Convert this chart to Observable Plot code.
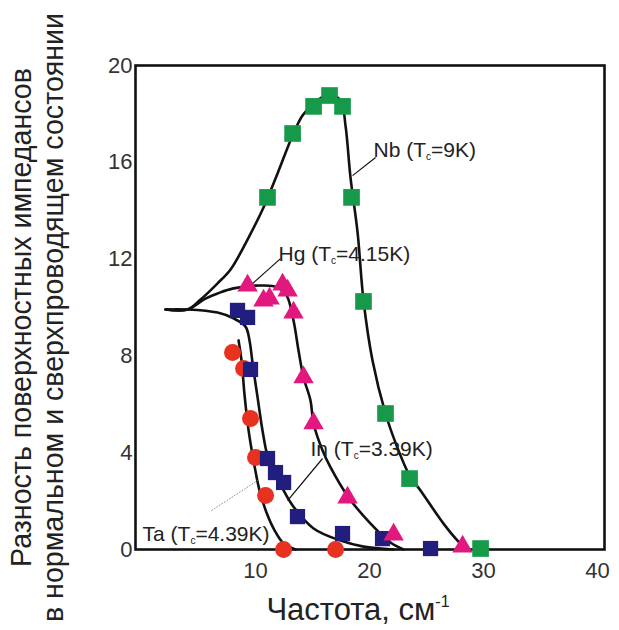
<!DOCTYPE html>
<html>
<head>
<meta charset="utf-8">
<script src="https://cdn.jsdelivr.net/npm/d3@7"></script>
<script src="https://cdn.jsdelivr.net/npm/@observablehq/plot@0.6"></script>
<style>
  html, body { margin: 0; padding: 0; background: #fff; }
  #chart { width: 619px; height: 630px; }
</style>
</head>
<body>
<div id="chart"></div>
<script>
// ---- Data (x: частота, см^-1; y: разность импедансов) ----
const nbPoints = [
  {x: 11.05, y: 14.55}, {x: 13.25, y: 17.19}, {x: 15.09, y: 18.31}, {x: 16.49, y: 18.76},
  {x: 17.63, y: 18.31}, {x: 18.42, y: 14.55}, {x: 19.47, y: 10.25}, {x: 21.40, y: 5.62},
  {x: 23.51, y: 2.93}, {x: 29.74, y: 0.04}
];
const hgPoints = [
  {x: 9.30, y: 10.91}, {x: 10.70, y: 10.29}, {x: 11.23, y: 10.37}, {x: 12.37, y: 10.95},
  {x: 12.81, y: 10.70}, {x: 13.33, y: 9.79}, {x: 14.21, y: 7.11}, {x: 15.09, y: 5.21},
  {x: 18.07, y: 2.15}, {x: 22.11, y: 0.62}, {x: 28.16, y: 0.12}
];
const inPoints = [
  {x: 8.42, y: 9.88}, {x: 9.30, y: 9.59}, {x: 9.56, y: 7.44}, {x: 11.05, y: 3.76},
  {x: 11.75, y: 3.18}, {x: 12.46, y: 2.77}, {x: 13.68, y: 1.36}, {x: 17.63, y: 0.66},
  {x: 21.14, y: 0.45}, {x: 25.35, y: 0.04}
];
const taPoints = [
  {x: 7.98, y: 8.14}, {x: 8.95, y: 7.48}, {x: 9.56, y: 5.41}, {x: 10.00, y: 3.80},
  {x: 10.88, y: 2.23}, {x: 12.46, y: 0.0}, {x: 17.02, y: 0.0}
];

// Theoretical curves
const nbCurve = [
  [2.11, 9.92], [4.04, 9.92], [5.18, 10.33], [6.67, 11.0], [7.81, 11.57], [9.39, 12.89],
  [10.70, 14.13], [11.93, 15.54], [13.25, 17.11], [14.12, 17.93], [15.09, 18.43],
  [16.40, 18.80], [17.46, 18.55], [17.89, 17.52], [18.33, 15.37], [18.95, 13.10],
  [19.47, 10.29], [20.26, 7.81], [21.40, 5.62], [22.37, 4.30], [23.51, 3.06],
  [24.47, 2.44], [26.49, 1.07], [27.72, 0.37], [28.60, 0]
];
const hgCurve = [
  [2.11, 9.92], [4.04, 9.92], [5.61, 10.37], [6.67, 10.58], [8.07, 10.79], [10.70, 10.91],
  [11.93, 10.83], [12.72, 10.50], [13.33, 9.46], [13.77, 8.22], [14.21, 7.11],
  [14.82, 6.16], [15.09, 5.21], [15.88, 4.09], [16.58, 3.39], [18.16, 2.15],
  [20.09, 1.07], [21.84, 0.29], [22.98, 0]
];
const inCurve = [
  [2.11, 9.92], [4.04, 9.92], [6.67, 9.79], [8.07, 9.55], [9.12, 9.21], [9.47, 8.64],
  [9.74, 7.69], [10.18, 6.28], [10.61, 4.92], [11.05, 3.88], [11.75, 3.14],
  [12.46, 2.44], [13.25, 1.82], [15.09, 0.87], [17.46, 0.37], [19.47, 0.12], [22.11, 0]
];
const taCurve = [
  [8.51, 8.64], [8.77, 7.81], [9.04, 6.36], [9.39, 4.92], [9.82, 3.68], [10.35, 2.44],
  [10.96, 1.53], [11.67, 0.79], [12.46, 0.25], [13.51, 0]
];

// Series labels and their leader lines
const labelText = ["Nb (Tc=9K)", "Hg (Tc=4.15K)", "In (Tc=3.39K)", "Ta (Tc=4.39K)"];
const labelX = [20.35, 12.02, 14.82, 0.09];
const labelY = [16.20, 11.94, 3.88, 0.37];
const leaderX1 = [20.53, 12.19, 15.88];
const leaderY1 = [16.20, 12.02, 3.76];
const leaderX2 = [18.51, 9.74, 12.81];
const leaderY2 = [15.45, 10.99, 2.02];
const taLeader = [{x1: 6.14, y1: 1.61, x2: 10.18, y2: 2.85}];

const xTicks = [10, 20, 30, 40];
const yTicks = [0, 4, 8, 12, 16, 20];
const xTitle = "Частота, см-1";
const yTitle = "Разность поверхностных импедансов\nв нормальном и сверхпроводящем состоянии";

const colors = {nb: "#169a4a", hg: "#e2187f", in: "#221e7e", ta: "#e8321f"};

// ---- Build tables ----
const labels = labelText.map((t, i) => ({t, x: labelX[i], y: labelY[i]}));
const leaders = leaderX1.map((v, i) => ({x1: v, y1: leaderY1[i], x2: leaderX2[i], y2: leaderY2[i]}));
const curveOpts = {x: d => d[0], y: d => d[1], curve: "catmull-rom", stroke: "#111", strokeWidth: 2.6};

const chart = Plot.plot({
  width: 619,
  height: 630,
  marginLeft: 135,
  marginRight: 15,
  marginTop: 65,
  marginBottom: 81,
  style: {fontFamily: "'Liberation Sans', Arial, sans-serif", background: "#fff", color: "#222"},
  x: {domain: [-0.53, 40.61]},
  y: {domain: [0, 20]},
  marks: [
    Plot.line(nbCurve, curveOpts),
    Plot.line(hgCurve, curveOpts),
    Plot.line(inCurve, curveOpts),
    Plot.line(taCurve, curveOpts),
    Plot.link(leaders, {x1: "x1", y1: "y1", x2: "x2", y2: "y2", stroke: "#111", strokeWidth: 1.2}),
    Plot.link(taLeader, {x1: "x1", y1: "y1", x2: "x2", y2: "y2", stroke: "#888", strokeWidth: 1, strokeDasharray: "1.5,1.5"}),
    Plot.frame({stroke: "#111", strokeWidth: 2.6}),
    Plot.axisX({ticks: xTicks, tickSize: 0, tickPadding: 13, label: null, fontSize: 22, fill: "#333"}),
    Plot.axisY({ticks: yTicks, tickSize: 0, tickPadding: 3, label: null, fontSize: 22, fill: "#333"}),
    Plot.dot(taPoints, {x: "x", y: "y", symbol: "circle", r: 8.5, fill: colors.ta}),
    Plot.dot(inPoints, {x: "x", y: "y", symbol: "square", r: 8.6, fill: colors.in}),
    Plot.dot(hgPoints, {x: "x", y: "y", symbol: "triangle", r: 7.6, fill: colors.hg}),
    Plot.dot(nbPoints, {x: "x", y: "y", symbol: "square", r: 9.4, fill: colors.nb}),
    Plot.text(labels, {x: "x", y: "y", text: "t", textAnchor: "start", lineAnchor: "bottom", fontSize: 21, fill: "#222"}),
    Plot.text([xTitle], {text: d => d, frameAnchor: "bottom", textAnchor: "middle", lineAnchor: "bottom", dy: 70, dx: -12, fontSize: 31, fill: "#222"}),
    Plot.text([yTitle], {text: d => d, frameAnchor: "left", textAnchor: "middle", lineAnchor: "middle", rotate: -90, dx: -99, dy: 10, fontSize: 28.6, lineHeight: 1.12, fill: "#222"})
  ]
});

// Sub/superscripts as real text spans
d3.select(chart).selectAll("text").each(function () {
  if (this.querySelector("tspan")) return;
  const s = this.textContent;
  const t = d3.select(this);
  const m = s.match(/^(.*\(T)c(=.*)$/);
  if (m) {
    t.text(null);
    t.append("tspan").text(m[1]);
    t.append("tspan").attr("font-size", "10px").attr("dy", "3").text("c");
    t.append("tspan").attr("dy", "-3").text(m[2]);
  } else if (s === xTitle) {
    t.text(null);
    t.append("tspan").text("Частота, см");
    t.append("tspan").attr("font-size", "16px").attr("dy", "-13").text("-1");
  }
});

document.getElementById("chart").appendChild(chart);
</script>
</body>
</html>
